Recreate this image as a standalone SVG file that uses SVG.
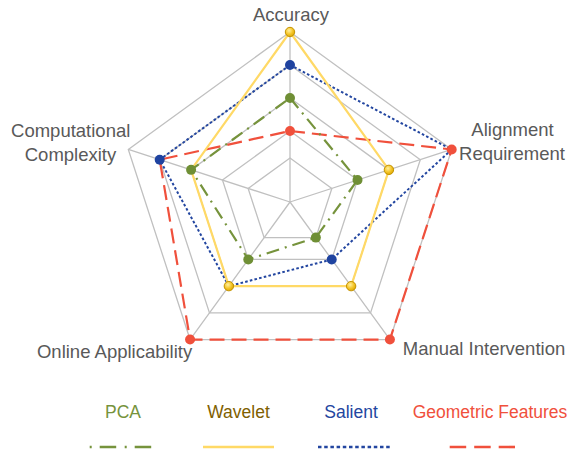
<svg xmlns="http://www.w3.org/2000/svg" width="573" height="455" viewBox="0 0 573 455">
<defs>
<radialGradient id="gold" cx="0.4" cy="0.35" r="0.7">
<stop offset="0" stop-color="#FFF0A0"/>
<stop offset="0.55" stop-color="#F5C62A"/>
<stop offset="1" stop-color="#D9A400"/>
</radialGradient>
<style>
.grid{fill:none;stroke:#C0C0C0;stroke-width:1.3}
.lbl{font-family:"Liberation Sans",Arial,sans-serif;font-size:18.5px;fill:#595959;text-anchor:middle}
.leg{font-family:"Liberation Sans",Arial,sans-serif;font-size:17.5px;text-anchor:middle}
.pca{fill:none;stroke:#76933C;stroke-width:2.2;stroke-dasharray:13 6 2 6}
.wav{fill:none;stroke:#FFD966;stroke-width:2.2}
.sal{fill:none;stroke:#2346A0;stroke-width:2;stroke-dasharray:2.6 2.2}
.geo{fill:none;stroke:#F0503C;stroke-width:2.2;stroke-dasharray:15 7}
.mp{fill:#6F8F35}
.mw{fill:url(#gold);stroke:#C49300;stroke-width:1}
.ms{fill:#1F43A0}
.mg{fill:#F0503C}
</style>
</defs>
<rect width="573" height="455" fill="#FFFFFF"/>
<g id="grid">
<polygon class="grid" points="290,32 451.69,149.47 389.93,339.53 190.07,339.53 128.31,149.47"/>
<polygon class="grid" points="290,65 420.3,159.67 370.53,312.83 209.47,312.83 159.7,159.67"/>
<polygon class="grid" points="290,98 388.91,169.86 351.13,286.14 228.87,286.14 191.09,169.86"/>
<polygon class="grid" points="290,131 357.53,180.06 331.73,259.44 248.27,259.44 222.47,180.06"/>
<polygon class="grid" points="290,158 331.85,188.4 315.86,237.6 264.14,237.6 248.15,188.4"/>
<path class="grid" d="M290,202L290,32M290,202L451.69,149.47M290,202L389.93,339.53M290,202L190.07,339.53M290,202L128.31,149.47"/>
</g>
<g id="axis-labels">
<text class="lbl" x="291" y="20.5">Accuracy</text>
<text class="lbl" x="512.5" y="136">Alignment</text>
<text class="lbl" x="512" y="160">Requirement</text>
<text class="lbl" x="70.7" y="136.5">Computational</text>
<text class="lbl" x="70.5" y="161">Complexity</text>
<text class="lbl" x="114.6" y="357.5">Online Applicability</text>
<text class="lbl" x="484" y="355">Manual Intervention</text>
</g>
<g id="connectors">
<polygon class="geo" points="290,131 451.69,149.47 389.93,339.53 190.07,339.53 159.7,159.67"/>
<polygon class="sal" points="290,65 451.69,149.47 331.73,259.44 228.87,286.14 159.7,159.67"/>
<polygon class="wav" points="290,32 388.91,169.86 351.13,286.14 228.87,286.14 191.09,169.86"/>
<polygon class="pca" points="290,98 357.53,180.06 315.86,237.6 248.27,259.44 191.09,169.86"/>
</g>
<g id="geometric">
<circle class="mg" cx="290" cy="131" r="5"/>
<circle class="mg" cx="451.69" cy="149.47" r="5"/>
<circle class="mg" cx="389.93" cy="339.53" r="5"/>
<circle class="mg" cx="190.07" cy="339.53" r="5"/>
</g>
<g id="salient">
<circle class="ms" cx="290" cy="65" r="5"/>
<circle class="ms" cx="331.73" cy="259.44" r="5"/>
<circle class="ms" cx="159.7" cy="159.67" r="5"/>
</g>
<g id="wavelet">
<circle class="mw" cx="290" cy="32" r="4.7"/>
<circle class="mw" cx="388.91" cy="169.86" r="4.7"/>
<circle class="mw" cx="351.13" cy="286.14" r="4.7"/>
<circle class="mw" cx="228.87" cy="286.14" r="4.7"/>
</g>
<g id="pca">
<circle class="mp" cx="290" cy="98" r="5"/>
<circle class="mp" cx="357.53" cy="180.06" r="5"/>
<circle class="mp" cx="315.86" cy="237.6" r="5"/>
<circle class="mp" cx="248.27" cy="259.44" r="5"/>
<circle class="mp" cx="191.09" cy="169.86" r="5"/>
</g>
<g id="legend">
<text class="leg" x="123" y="418" fill="#76933C">PCA</text>
<text class="leg" x="238.5" y="418" fill="#7F6000">Wavelet</text>
<text class="leg" x="351" y="418" fill="#2346A0">Salient</text>
<text class="leg" x="490" y="418" fill="#F0503C">Geometric Features</text>
<line x1="89.7" y1="447" x2="151.7" y2="447" stroke="#76933C" stroke-width="2.6" stroke-dasharray="2 8 16.5 8.5"/>
<line x1="203" y1="447" x2="274" y2="447" stroke="#FFD966" stroke-width="2.6"/>
<line x1="318" y1="447" x2="389.7" y2="447" stroke="#2346A0" stroke-width="2.4" stroke-dasharray="3.5 2.7"/>
<line x1="449.7" y1="447" x2="515" y2="447" stroke="#F0503C" stroke-width="2.6" stroke-dasharray="16.5 8"/>
</g>
</svg>
